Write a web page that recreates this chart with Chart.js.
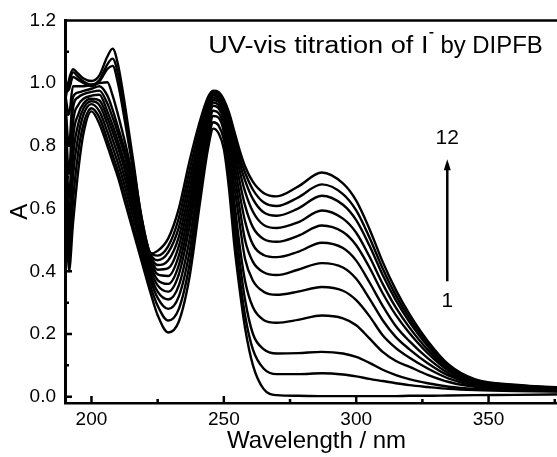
<!DOCTYPE html>
<html>
<head>
<meta charset="utf-8">
<script src="https://cdn.jsdelivr.net/npm/chart.js@4/dist/chart.umd.min.js"></script>
<style>
html, body { margin: 0; padding: 0; background: #fff; overflow: hidden; }
</style>
</head>
<body>
<canvas id="uvvis" width="568" height="457"></canvas>
<script>
// wavelength (nm) sampled along the spectra
var wavelength = [190, 191.5, 193, 195, 197, 200, 203, 206, 208, 210, 213, 216, 219, 222, 225, 229, 233, 237, 241, 244, 246, 248, 250, 252, 254, 256, 258, 261, 265, 270, 278, 287, 295, 300, 305, 310, 315, 320, 327, 335, 345, 360, 380];

// absorbance, spectrum 1 .. 12
var abs1 = [0.80, 0.40, 0.55, 0.72, 0.84, 0.91, 0.87, 0.80, 0.75, 0.70, 0.61, 0.52, 0.43, 0.34, 0.26, 0.205, 0.24, 0.38, 0.62, 0.79, 0.855, 0.84, 0.79, 0.66, 0.48, 0.34, 0.22, 0.10, 0.025, 0.005, 0.003, 0.002, 0.002, 0.002, 0.002, 0.002, 0.002, 0.003, 0.003, 0.004, 0.005, 0.006, 0.008];
var abs2 = [0.85, 0.43, 0.62, 0.78, 0.87, 0.92, 0.89, 0.82, 0.77, 0.72, 0.635, 0.54, 0.45, 0.36, 0.29, 0.243, 0.28, 0.42, 0.65, 0.81, 0.875, 0.865, 0.82, 0.70, 0.53, 0.38, 0.26, 0.15, 0.09, 0.072, 0.072, 0.075, 0.071, 0.065, 0.057, 0.05, 0.043, 0.037, 0.031, 0.025, 0.021, 0.018, 0.016];
var abs3 = [0.88, 0.47, 0.70, 0.83, 0.90, 0.933, 0.91, 0.845, 0.795, 0.745, 0.66, 0.565, 0.47, 0.38, 0.315, 0.28, 0.32, 0.46, 0.68, 0.83, 0.895, 0.89, 0.845, 0.74, 0.58, 0.43, 0.31, 0.20, 0.152, 0.138, 0.139, 0.143, 0.138, 0.127, 0.108, 0.086, 0.069, 0.056, 0.043, 0.032, 0.025, 0.021, 0.019];
var abs4 = [0.90, 0.52, 0.76, 0.87, 0.92, 0.942, 0.93, 0.87, 0.82, 0.77, 0.685, 0.585, 0.485, 0.395, 0.335, 0.31, 0.355, 0.50, 0.71, 0.85, 0.912, 0.905, 0.865, 0.77, 0.62, 0.48, 0.37, 0.285, 0.245, 0.236, 0.245, 0.259, 0.25, 0.228, 0.186, 0.143, 0.114, 0.096, 0.07, 0.047, 0.032, 0.025, 0.021];
var abs5 = [0.92, 0.57, 0.82, 0.90, 0.935, 0.95, 0.945, 0.89, 0.845, 0.795, 0.71, 0.605, 0.50, 0.41, 0.355, 0.335, 0.39, 0.54, 0.74, 0.87, 0.928, 0.92, 0.885, 0.80, 0.67, 0.55, 0.44, 0.37, 0.335, 0.325, 0.335, 0.35, 0.338, 0.308, 0.257, 0.196, 0.155, 0.125, 0.09, 0.058, 0.036, 0.028, 0.023];
var abs6 = [0.93, 0.63, 0.87, 0.93, 0.95, 0.96, 0.963, 0.91, 0.865, 0.815, 0.73, 0.625, 0.515, 0.425, 0.372, 0.36, 0.42, 0.57, 0.76, 0.885, 0.938, 0.93, 0.90, 0.825, 0.71, 0.60, 0.50, 0.43, 0.397, 0.388, 0.405, 0.426, 0.412, 0.376, 0.313, 0.244, 0.19, 0.152, 0.107, 0.067, 0.04, 0.03, 0.024];
var abs7 = [0.95, 0.71, 0.92, 0.955, 0.965, 0.972, 0.976, 0.935, 0.89, 0.84, 0.755, 0.645, 0.53, 0.44, 0.39, 0.385, 0.45, 0.60, 0.78, 0.90, 0.946, 0.94, 0.91, 0.845, 0.745, 0.645, 0.56, 0.485, 0.452, 0.445, 0.462, 0.491, 0.474, 0.434, 0.365, 0.29, 0.225, 0.178, 0.123, 0.074, 0.043, 0.031, 0.025];
var abs8 = [0.96, 0.80, 0.955, 0.97, 0.975, 0.982, 0.99, 0.96, 0.915, 0.86, 0.775, 0.665, 0.545, 0.45, 0.405, 0.41, 0.48, 0.63, 0.80, 0.915, 0.954, 0.948, 0.92, 0.86, 0.775, 0.685, 0.61, 0.54, 0.503, 0.494, 0.513, 0.546, 0.525, 0.483, 0.412, 0.33, 0.26, 0.204, 0.139, 0.082, 0.046, 0.033, 0.026];
var abs9 = [0.97, 0.90, 0.99, 0.99, 0.99, 0.995, 1.0, 1.003, 0.96, 0.90, 0.80, 0.685, 0.555, 0.455, 0.42, 0.435, 0.51, 0.66, 0.82, 0.925, 0.961, 0.955, 0.928, 0.875, 0.80, 0.72, 0.655, 0.59, 0.548, 0.538, 0.556, 0.594, 0.568, 0.523, 0.447, 0.36, 0.284, 0.222, 0.15, 0.088, 0.049, 0.035, 0.026];
var abs10 = [0.97, 0.98, 1.02, 1.01, 1.0, 0.99, 1.005, 1.045, 1.055, 1.0, 0.86, 0.71, 0.565, 0.46, 0.435, 0.46, 0.54, 0.69, 0.84, 0.935, 0.966, 0.96, 0.935, 0.885, 0.815, 0.745, 0.69, 0.63, 0.588, 0.577, 0.60, 0.641, 0.612, 0.563, 0.482, 0.388, 0.307, 0.24, 0.162, 0.094, 0.051, 0.036, 0.027];
var abs11 = [0.96, 1.0, 1.035, 1.02, 1.005, 0.995, 1.01, 1.06, 1.078, 1.03, 0.885, 0.725, 0.57, 0.462, 0.45, 0.48, 0.57, 0.72, 0.86, 0.945, 0.971, 0.966, 0.94, 0.895, 0.83, 0.765, 0.715, 0.66, 0.62, 0.608, 0.635, 0.677, 0.646, 0.594, 0.508, 0.409, 0.323, 0.252, 0.17, 0.098, 0.053, 0.037, 0.027];
var abs12 = [0.94, 1.01, 1.044, 1.03, 1.015, 1.007, 1.025, 1.085, 1.11, 1.06, 0.91, 0.74, 0.56, 0.456, 0.465, 0.505, 0.60, 0.75, 0.88, 0.955, 0.976, 0.972, 0.948, 0.905, 0.845, 0.785, 0.735, 0.685, 0.65, 0.639, 0.67, 0.715, 0.68, 0.625, 0.535, 0.43, 0.34, 0.265, 0.178, 0.102, 0.055, 0.038, 0.028];

var xTicks = [200, 250, 300, 350];
var xMinor = [225, 275, 325, 375];
var yTicks = [0, 0.2, 0.4, 0.6, 0.8, 1.0, 1.2];
var yMinor = [0.1, 0.3, 0.5, 0.7, 0.9, 1.1];

var font = '"Liberation Sans", Arial, sans-serif';

var spectra = [abs1, abs2, abs3, abs4, abs5, abs6, abs7, abs8, abs9, abs10, abs11, abs12];

// inward ticks, top frame line, caption and the 1 -> 12 arrow
var decorations = {
    id: 'decorations',
    afterDatasetsDraw: function(chart) {
        var ctx = chart.ctx, area = chart.chartArea;
        var x = chart.scales.x, y = chart.scales.y;
        ctx.save();
        ctx.strokeStyle = '#000';
        ctx.fillStyle = '#000';
        ctx.lineWidth = 2.5;
        ctx.beginPath();
        ctx.moveTo(area.left, area.top);
        ctx.lineTo(area.right, area.top);
        xTicks.forEach(function(v) {
            var px = x.getPixelForValue(v);
            ctx.moveTo(px, area.bottom); ctx.lineTo(px, area.bottom - 7);
        });
        xMinor.forEach(function(v) {
            var px = x.getPixelForValue(v);
            ctx.moveTo(px, area.bottom); ctx.lineTo(px, area.bottom - 4);
        });
        yTicks.forEach(function(v) {
            var py = y.getPixelForValue(v);
            ctx.moveTo(area.left, py); ctx.lineTo(area.left + 7, py);
        });
        yMinor.forEach(function(v) {
            var py = y.getPixelForValue(v);
            ctx.moveTo(area.left, py); ctx.lineTo(area.left + 4, py);
        });
        ctx.stroke();

        // caption
        var tx = x.getPixelForValue(244.1), ty = y.getPixelForValue(1.096);
        ctx.font = '23px ' + font;
        ctx.textBaseline = 'alphabetic';
        ctx.textAlign = 'left';
        var part = 'UV-vis titration of I';
        var w = ctx.measureText(part).width * 1.18;
        ctx.save();
        ctx.translate(tx, ty);
        ctx.scale(1.18, 1);
        ctx.fillText(part, 0, 0);
        ctx.restore();
        ctx.fillRect(tx + w + 1, ty - 21, 4, 1.5);
        ctx.save();
        ctx.translate(tx + w + 12, ty);
        ctx.scale(1.04, 1);
        ctx.fillText('by DIPFB', 0, 0);
        ctx.restore();

        // arrow
        var ax = x.getPixelForValue(334.4);
        var tip = y.getPixelForValue(0.757), tail = y.getPixelForValue(0.368);
        ctx.lineWidth = 2.5;
        ctx.beginPath();
        ctx.moveTo(ax, tail); ctx.lineTo(ax, tip + 8);
        ctx.stroke();
        ctx.beginPath();
        ctx.moveTo(ax, tip);
        ctx.lineTo(ax - 3.5, tip + 11);
        ctx.lineTo(ax + 3.5, tip + 11);
        ctx.closePath();
        ctx.fill();
        ctx.font = '21px ' + font;
        ctx.textAlign = 'center';
        ctx.textBaseline = 'middle';
        ctx.fillText('12', ax, y.getPixelForValue(0.825));
        ctx.fillText('1', ax, y.getPixelForValue(0.305));
        ctx.restore();
    }
};

var ctx = document.getElementById('uvvis');
new Chart(ctx, {
    type: 'line',
    data: {
        datasets: spectra.map(function(vals) {
            return {
                data: vals.map(function(v, i) { return { x: wavelength[i], y: v }; }),
                borderColor: '#000',
                borderWidth: 2.4,
                pointRadius: 0,
                fill: false,
                cubicInterpolationMode: 'monotone'
            };
        })
    },
    options: {
        responsive: false,
        animation: false,
        devicePixelRatio: 1,
        layout: { padding: { top: 16, right: 0, bottom: 0, left: 0 } },
        plugins: {
            legend: { display: false },
            tooltip: { enabled: false }
        },
        scales: {
            x: {
                type: 'linear',
                min: 190,
                max: 380,
                afterBuildTicks: function(s) { s.ticks = xTicks.map(function(v) { return { value: v }; }); },
                afterFit: function(s) { s.height = 54; },
                grid: { display: false, drawTicks: false },
                border: { display: true, color: '#000', width: 2.5 },
                ticks: { color: '#000', padding: 5, maxRotation: 0, autoSkip: false, font: { family: font, size: 19 } },
                title: { display: true, text: 'Wavelength / nm', color: '#000', font: { family: font, size: 24 }, padding: { top: 0, bottom: 1 } }
            },
            y: {
                min: -0.02,
                max: 1.2,
                afterBuildTicks: function(s) { s.ticks = yTicks.map(function(v) { return { value: v }; }); },
                afterFit: function(s) { s.width = 65; },
                grid: { display: false, drawTicks: false },
                border: { display: true, color: '#000', width: 3 },
                ticks: { color: '#000', padding: 9, font: { family: font, size: 19 }, callback: function(v) { return v.toFixed(1); } },
                title: { display: true, text: 'A', color: '#000', font: { family: font, size: 24 }, padding: { top: 6, bottom: 0 } }
            }
        }
    },
    plugins: [decorations]
});
</script>
</body>
</html>
